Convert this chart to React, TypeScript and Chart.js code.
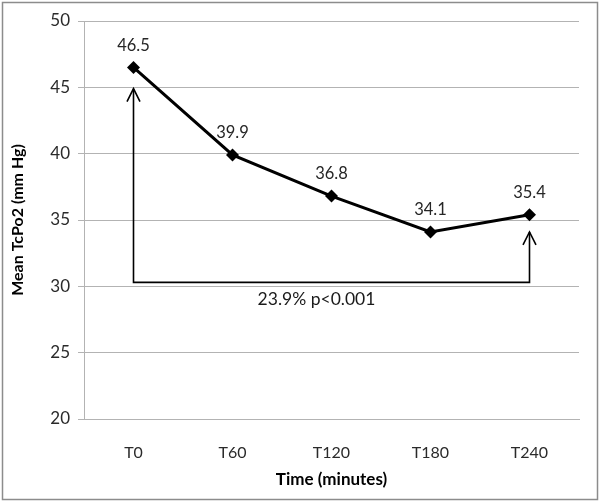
import React, { useEffect, useRef } from "react";
import { Chart, registerables } from "chart.js";
Chart.register(...registerables);

const categories = ["T0", "T60", "T120", "T180", "T240"];
const meanTcPo2 = [46.5, 39.9, 36.8, 34.1, 35.4];
const pointLabels = ["46.5", "39.9", "36.8", "34.1", "35.4"];
const yMin = 20;
const yMax = 50;
const yStep = 5;
const bracketLevel = 30.3;
const arrowTipStart = 44.9;
const arrowTipEnd = 34.1;
const bracketText = "23.9% p<0.001";
const yTitle = "Mean TcPo2 (mm Hg)";
const xTitle = "Time (minutes)";

const FONT = "Lato, 'Open Sans', sans-serif";

const framePlugin = {
  id: "frame",
  beforeDraw(chart: any) {
    const ctx = chart.ctx;
    ctx.save();
    ctx.fillStyle = "#ffffff";
    ctx.fillRect(0, 0, chart.width, chart.height);
    ctx.strokeStyle = "#8c8c8c";
    ctx.lineWidth = 1.5;
    ctx.strokeRect(2.5, 2.5, chart.width - 5, chart.height - 5);
    ctx.restore();
  },
};

const annotPlugin = {
  id: "annot",
  afterDatasetsDraw(chart: any) {
    const ctx = chart.ctx;
    const xs = chart.scales.x;
    const ys = chart.scales.y;
    const x0 = xs.getPixelForValue(0);
    const x1 = xs.getPixelForValue(categories.length - 1);
    const yb = ys.getPixelForValue(bracketLevel);
    const t0 = ys.getPixelForValue(arrowTipStart);
    const t1 = ys.getPixelForValue(arrowTipEnd);
    ctx.save();
    ctx.strokeStyle = "#000";
    ctx.lineWidth = 1.6;
    ctx.beginPath();
    ctx.moveTo(x0, t0);
    ctx.lineTo(x0, yb);
    ctx.lineTo(x1, yb);
    ctx.lineTo(x1, t1);
    ctx.stroke();
    const head = (x: number, y: number) => {
      ctx.beginPath();
      ctx.moveTo(x - 6.5, y + 13);
      ctx.lineTo(x, y);
      ctx.lineTo(x + 6.5, y + 13);
      ctx.stroke();
    };
    head(x0, t0);
    head(x1, t1);
    ctx.fillStyle = "#1a1a1a";
    ctx.font = `17.5px ${FONT}`;
    ctx.textAlign = "center";
    ctx.textBaseline = "middle";
    ctx.fillText(bracketText, (x0 + x1) / 2 - 15, yb + 17);

    const meta = chart.getDatasetMeta(0);
    ctx.font = `16.5px ${FONT}`;
    ctx.fillStyle = "#262626";
    meta.data.forEach((pt: any, i: number) => {
      ctx.fillText(pointLabels[i], pt.x, pt.y - 22);
    });
    ctx.restore();
  },
};

export default function App() {
  const ref = useRef<HTMLCanvasElement>(null);
  useEffect(() => {
    document.body.style.margin = "0";
    const chart = new Chart(ref.current as HTMLCanvasElement, {
      type: "line",
      data: {
        labels: categories,
        datasets: [
          {
            data: meanTcPo2,
            borderColor: "#000",
            backgroundColor: "#000",
            borderWidth: 3,
            pointStyle: "rectRot",
            pointRadius: 6.5,
            pointBorderWidth: 0,
            tension: 0,
          },
        ],
      },
      options: {
        responsive: false,
        animation: false,
        layout: { padding: { left: 0, right: 21, top: 21, bottom: 0 } },
        plugins: { legend: { display: false }, tooltip: { enabled: false } },
        scales: {
          x: {
            offset: true,
            grid: { display: false, drawTicks: false, offset: true },
            border: { color: "#b3b3b3", width: 1 },
            ticks: { padding: 24, color: "#2a2a2a", font: { family: FONT, size: 16 } },
            title: {
              display: true,
              text: xTitle,
              color: "#000",
              font: { family: FONT, size: 17, weight: "bold" },
              padding: { top: 0, bottom: 12 },
            },
            afterFit(s: any) {
              s.height = 83;
            },
          },
          y: {
            min: yMin,
            max: yMax,
            ticks: { stepSize: yStep, padding: 8, color: "#2a2a2a", font: { family: FONT, size: 17 } },
            grid: { color: "#b3b3b3", lineWidth: 1, tickLength: 6 },
            border: { color: "#b3b3b3", width: 1 },
            title: {
              display: true,
              text: yTitle,
              color: "#000",
              font: { family: FONT, size: 16, weight: "bold" },
              padding: { top: 8, bottom: 0 },
            },
            afterFit(s: any) {
              s.width = 84;
            },
          },
        },
      },
      plugins: [framePlugin, annotPlugin],
    });
    return () => chart.destroy();
  }, []);
  return (
    <div style={{ position: "absolute", left: 0, top: 0, width: 600, height: 502 }}>
      <canvas ref={ref} width={600} height={502} />
    </div>
  );
}
